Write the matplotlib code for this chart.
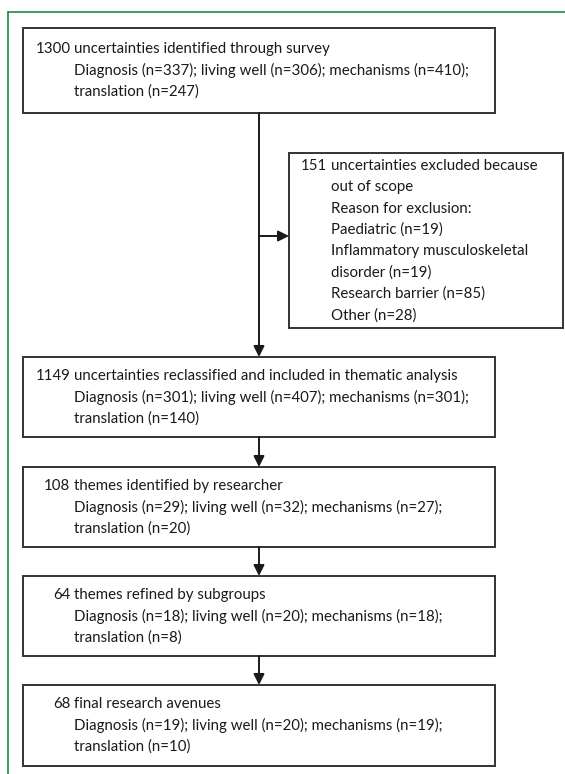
import matplotlib.pyplot as plt
from matplotlib.patches import Rectangle

plt.rcParams['font.family'] = ['Lato', 'DejaVu Sans']

# datos del diagrama de flujo
heads = ["1300", "1149", "108", "64", "68"]
titles = [
    "uncertainties identified through survey",
    "uncertainties reclassified and included in thematic analysis",
    "themes identified by researcher",
    "themes refined by subgroups",
    "final research avenues",
]
n_diagnosis = [337, 301, 29, 18, 19]
n_living = [306, 407, 32, 20, 20]
n_mechanisms = [410, 301, 27, 18, 19]
n_translation = [247, 140, 20, 8, 10]

excluded_head = "151"
excluded_title = ["uncertainties excluded because", "out of scope", "Reason for exclusion:"]
reasons = ["Paediatric", "Inflammatory musculoskeletal\ndisorder", "Research barrier", "Other"]
reason_n = [19, 19, 85, 28]

# -------------------------
# figura en pixeles
# -------------------------
W, H = 565, 774
fig = plt.figure(figsize=(W / 100, H / 100), dpi=100)
ax = fig.add_axes([0, 0, 1, 1])
ax.set_xlim(0, W)
ax.set_ylim(H, 0)
ax.axis('off')

edge = '#333333'
green = '#1e8a4c'
fs = 10.8
lh = 21.3

# borde verde
ax.plot([8, W], [12, 12], color=green, lw=1.2)
ax.plot([8, 8], [12, H], color=green, lw=1.2)


def box(x0, x1, top, bottom):
    ax.add_patch(Rectangle((x0, top), x1 - x0, bottom - top, fill=False,
                           ec=edge, lw=1.4))


def write(head, lines, xtext, top, bottom):
    n = len(lines)
    mid = (top + bottom) / 2
    for i, line in enumerate(lines):
        y = mid + (i - (n - 1) / 2) * lh
        ax.text(xtext, y, line, ha='left', va='center', fontsize=fs, color='#1a1a1a')
    y0 = mid - (n - 1) / 2 * lh
    ax.text(xtext - 3.5, y0, head, ha='right', va='center', fontsize=fs, color='#1a1a1a')


# cajas principales
tops = [28, 357, 467, 576, 685]
bottoms = [113, 437, 547, 656, 766]
bx0, bx1 = 23, 495
for k in range(len(heads)):
    lines = [
        titles[k],
        f"Diagnosis (n={n_diagnosis[k]}); living well (n={n_living[k]}); mechanisms (n={n_mechanisms[k]});",
        f"translation (n={n_translation[k]})",
    ]
    box(bx0, bx1, tops[k], bottoms[k])
    write(heads[k], lines, 74, tops[k], bottoms[k])

# caja de exclusiones
sx0, sx1, stop, sbot = 289, 563, 153, 328
side_lines = list(excluded_title)
for r, n in zip(reasons, reason_n):
    parts = r.split("\n")
    parts[-1] = parts[-1] + f" (n={n})"
    side_lines += parts
box(sx0, sx1, stop, sbot)
write(excluded_head, side_lines, 331, stop, sbot)

# flechas
xc = 259
arrow = dict(arrowstyle='-|>', color='#1a1a1a', lw=1.4, mutation_scale=16,
             shrinkA=0, shrinkB=0)
ax.annotate("", xy=(xc, tops[1]), xytext=(xc, bottoms[0]), arrowprops=arrow)
ax.annotate("", xy=(sx0, 236), xytext=(xc, 236), arrowprops=arrow)
for k in range(1, len(heads) - 1):
    ax.annotate("", xy=(xc, tops[k + 1]), xytext=(xc, bottoms[k]), arrowprops=arrow)

fig.savefig("out.png", dpi=100)
